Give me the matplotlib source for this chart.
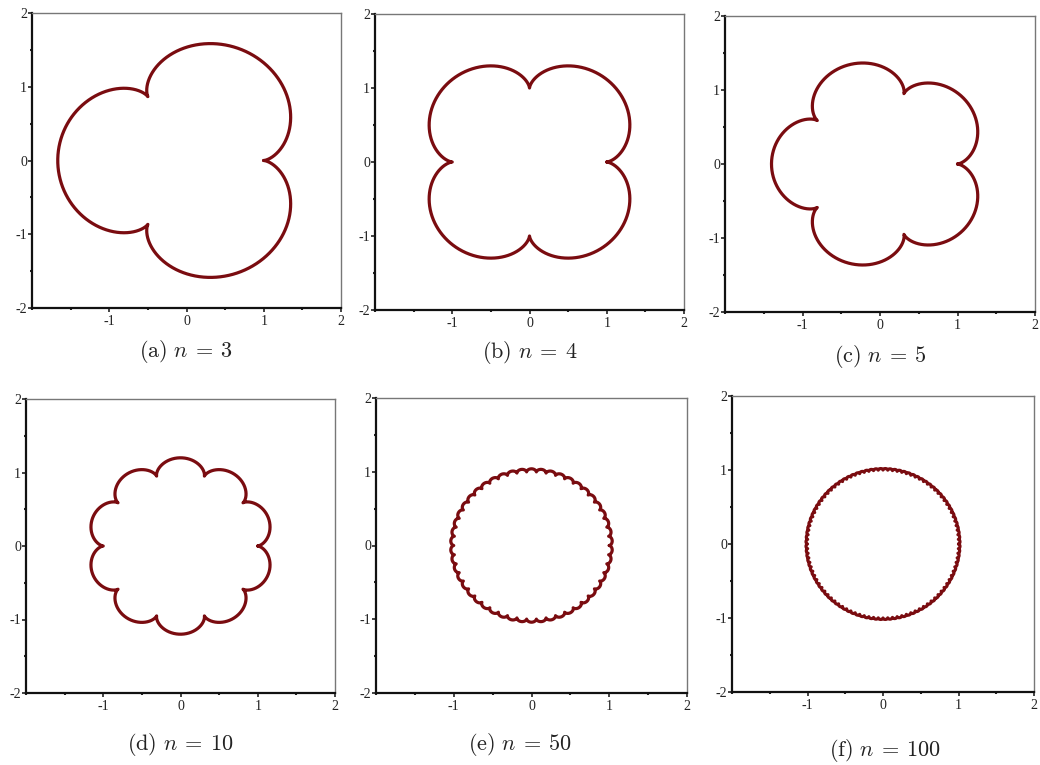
import matplotlib
matplotlib.use("Agg")
import matplotlib.pyplot as plt
from matplotlib.ticker import MultipleLocator
import numpy as np

plt.rcParams['mathtext.fontset'] = 'cm'

# 参数 n 和子图标题
n_values = [3, 4, 5, 10, 50, 100]
letters = ['a', 'b', 'c', 'd', 'e', 'f']
x_ticks = [-1, 0, 1, 2]
y_ticks = [-2, -1, 0, 1, 2]

# 每个子图在画布上的像素位置 (左, 右, 上, 下)
boxes = [(32, 341, 13, 308), (375, 684, 14, 310), (725, 1035, 16, 312),
         (26, 335, 399, 693), (376, 687, 398, 693), (732, 1034, 396, 692)]
captions_y = [352, 353, 356, 745, 745, 750]
captions_x = [186, 530, 880, 180, 520, 885]

W, H = 1040, 765
fig = plt.figure(figsize=(W / 100, H / 100), dpi=100)
fig.patch.set_facecolor('white')

curve_color = '#7a0c10'

for n, letter, box, cx, cy in zip(n_values, letters, boxes, captions_x, captions_y):
    l, r, t, b = box
    ax = fig.add_axes([l / W, 1 - b / H, (r - l) / W, (b - t) / H])
    # 外摆线: 固定圆半径 1, 滚动圆半径 1/n
    s = np.linspace(0, 2 * np.pi, 4000 + 60 * n)
    z = (1 + 1 / n) * np.exp(1j * s) - (1 / n) * np.exp(1j * (n + 1) * s)
    ax.plot(z.real, z.imag, color=curve_color, lw=2.3, solid_capstyle='round')
    ax.set_xlim(-2, 2)
    ax.set_ylim(-2, 2)
    ax.set_xticks(x_ticks)
    ax.set_yticks(y_ticks)
    ax.set_xticklabels([str(v) for v in x_ticks])
    ax.set_yticklabels([str(v) for v in y_ticks])
    ax.xaxis.set_minor_locator(MultipleLocator(0.5))
    ax.yaxis.set_minor_locator(MultipleLocator(0.5))
    for lab in ax.get_xticklabels() + ax.get_yticklabels():
        lab.set_family('Liberation Serif')
        lab.set_fontsize(10)
        lab.set_color('#222222')
    ax.tick_params(which='major', direction='out', length=3, width=1.2,
                   color='#222222', pad=2)
    ax.tick_params(axis='y', which='major', pad=0.5)
    ax.tick_params(which='minor', direction='out', length=1.5, width=1.5,
                   color='#222222')
    ax.spines['left'].set_linewidth(1.6)
    ax.spines['bottom'].set_linewidth(1.6)
    ax.spines['left'].set_color('#111111')
    ax.spines['bottom'].set_color('#111111')
    ax.spines['top'].set_color('#777777')
    ax.spines['right'].set_color('#777777')
    ax.spines['top'].set_linewidth(1.0)
    ax.spines['right'].set_linewidth(1.0)
    fig.text(cx / W, 1 - cy / H,
             r'$\mathrm{(' + letter + r')}\ n\:=\:' + str(n) + '$',
             ha='center', va='center', fontsize=16, color='#222222')

plt.savefig('out.png', dpi=100, facecolor='white')
